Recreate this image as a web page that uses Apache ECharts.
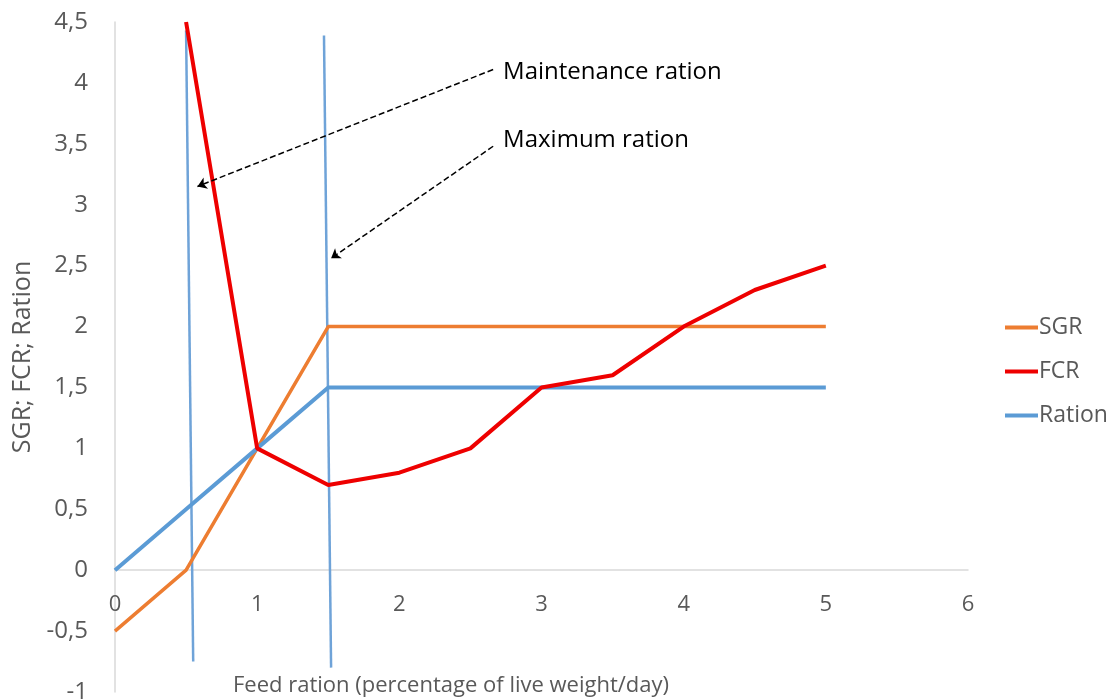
<!DOCTYPE html>
<html>
<head>
<meta charset="utf-8">
<script src="https://cdn.jsdelivr.net/npm/echarts@6/dist/echarts.min.js"></script>
<style>html,body{margin:0;padding:0;background:#fff}#c{width:1113px;height:699px}</style>
</head>
<body>
<div id="c"></div>
<script>
// ---- data ----
const sgrX = [0, 0.5, 1, 1.5, 5];
const sgrY = [-0.5, 0, 1, 2, 2];
const fcrX = [0.5, 1, 1.5, 2, 2.5, 3, 3.5, 4, 4.5, 5];
const fcrY = [4.5, 1, 0.7, 0.8, 1, 1.5, 1.6, 2, 2.3, 2.5];
const rationX = [0, 0.5, 1, 1.5, 5];
const rationY = [0, 0.5, 1, 1.5, 1.5];
// vertical marker lines (maintenance & maximum ration), slightly slanted as drawn
const maintLine = [[0.50, 4.43], [0.55, -0.75]];
const maxLine = [[1.47, 4.39], [1.52, -0.80]];
// annotation arrows: [start, end]
const arrowMaint = [[2.66, 4.11], [0.58, 3.15]];
const arrowMax = [[2.66, 3.48], [1.52, 2.56]];
const annoText = ['Maintenance ration', 'Maximum ration'];
const annoPos = [[2.73, 4.10], [2.73, 3.54]];
const yMin = -1, yMax = 4.5;
const yLabelsFmt = v => String(v).replace('.', ',');

const zip = (xs, ys) => xs.map((x, i) => [x, ys[i]]);
const FONT = '"Open Sans", sans-serif';
const GREY = '#595959';
const H = 699, TOP = 22, BOTTOM = 7;
const plotH = H - TOP - BOTTOM;
const zeroOffset = -plotH * (0 - yMin) / (yMax - yMin);

const chart = echarts.init(document.getElementById('c'), null, {renderer: 'canvas'});
chart.setOption({
  animation: false,
  backgroundColor: '#fff',
  grid: {left: 115, right: 145, top: TOP, bottom: BOTTOM, containLabel: false, outerBoundsMode: 'none'},
  legend: {
    orient: 'vertical', left: 1000, top: 311, itemGap: 21,
    icon: 'rect', itemWidth: 33, itemHeight: 4,
    data: ['SGR', 'FCR', 'Ration'],
    textStyle: {fontFamily: FONT, fontSize: 23, color: GREY, padding: [0, 0, 0, -4]}
  },
  xAxis: {
    type: 'value', min: 0, max: 6, interval: 1, position: 'bottom', offset: zeroOffset,
    axisLine: {show: true, onZero: false, lineStyle: {color: '#d9d9d9', width: 1.5}},
    axisTick: {show: false}, splitLine: {show: false},
    axisLabel: {fontFamily: FONT, fontSize: 22, color: GREY, margin: 24}
  },
  yAxis: {
    type: 'value', min: yMin, max: yMax, interval: 0.5,
    name: 'SGR; FCR; Ration', nameLocation: 'middle', nameGap: 74,
    nameTextStyle: {fontFamily: FONT, fontSize: 25, color: GREY},
    axisLine: {show: true, lineStyle: {color: '#d9d9d9', width: 1.5}},
    axisTick: {show: false}, splitLine: {show: false},
    axisLabel: {fontFamily: FONT, fontSize: 24, color: GREY, margin: 27, formatter: yLabelsFmt}
  },
  series: [
    {name: 'SGR', type: 'line', data: zip(sgrX, sgrY), showSymbol: false, symbol: 'none',
     lineStyle: {color: '#ed7d31', width: 3.5}, itemStyle: {color: '#ed7d31'}, z: 3},
    {name: 'FCR', type: 'line', data: zip(fcrX, fcrY), showSymbol: false, symbol: 'none',
     lineStyle: {color: '#ee0000', width: 4}, itemStyle: {color: '#ee0000'}, z: 4},
    {name: 'Ration', type: 'line', data: zip(rationX, rationY), showSymbol: false, symbol: 'none',
     lineStyle: {color: '#5b9bd5', width: 4}, itemStyle: {color: '#5b9bd5'}, z: 3},
    {name: 'maint', type: 'line', data: maintLine, symbol: 'none',
     lineStyle: {color: '#6fa3d8', width: 2.5}, z: 2},
    {name: 'max', type: 'line', data: maxLine, symbol: 'none',
     lineStyle: {color: '#6fa3d8', width: 2.5}, z: 2},
    {name: 'arrows', type: 'line', data: [], z: 5,
     markLine: {
       silent: true, animation: false, symbol: ['none', 'arrow'], symbolSize: 9,
       lineStyle: {color: '#000', type: [6, 3], width: 1.5}, label: {show: false},
       data: [
         [{coord: arrowMaint[0]}, {coord: arrowMaint[1]}],
         [{coord: arrowMax[0]}, {coord: arrowMax[1]}]
       ]
     }}
  ]
});

const gfx = annoText.map((t, i) => {
  const p = chart.convertToPixel({gridIndex: 0}, annoPos[i]);
  return {type: 'text', left: p[0], top: p[1] - 11,
    style: {text: t, font: '24px ' + FONT, fill: '#000'}};
});
gfx.push({type: 'text', left: 233, top: 675,
  style: {text: 'Feed ration (percentage of live weight/day)', font: '22px ' + FONT, fill: GREY}});
chart.setOption({graphic: gfx});
</script>
</body>
</html>
